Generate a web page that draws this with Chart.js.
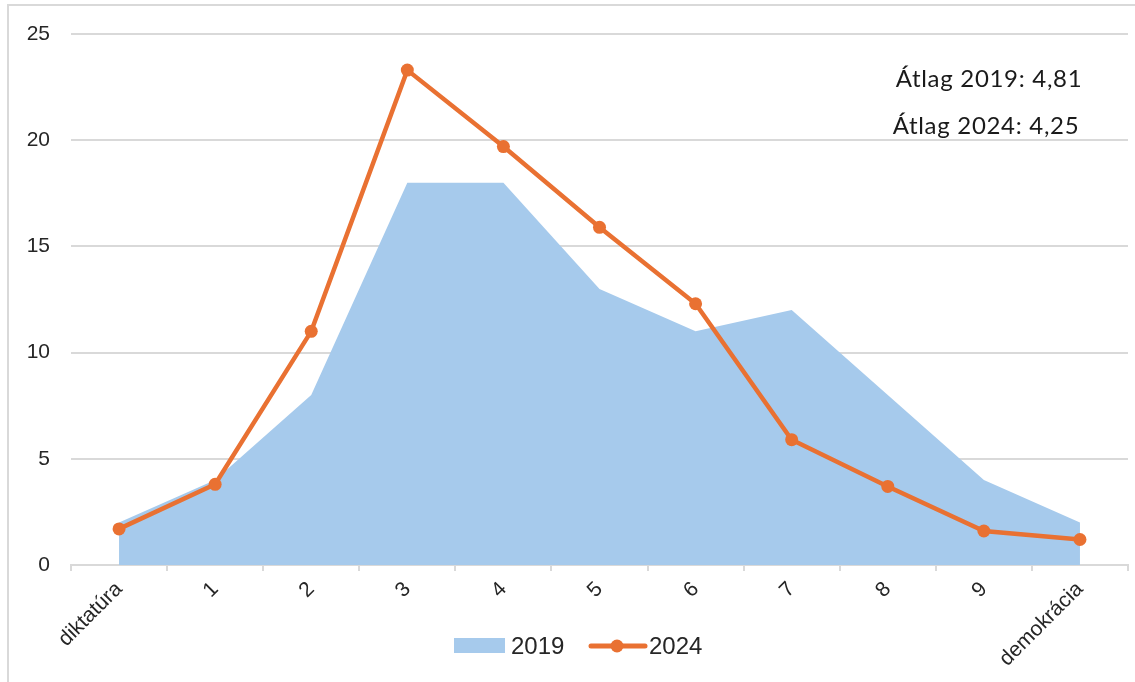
<!DOCTYPE html>
<html>
<head>
<meta charset="utf-8">
<script src="https://cdn.jsdelivr.net/npm/chart.js@4.4.1/dist/chart.umd.min.js"></script>
<style>
    body { margin: 0; background: #fff; }
    #wrap { position: relative; width: 1135px; height: 682px; }
</style>
</head>
<body>
<div id="wrap"><canvas id="chart"></canvas></div>
<script>
// Categories on the scale (diktatúra -> demokrácia)
const categories = ['diktatúra', '1', '2', '3', '4', '5', '6', '7', '8', '9', 'demokrácia'];
// Share per category
const values2019 = [2, 4, 8, 18, 18, 13, 11, 12, 8, 4, 2];
const values2024 = [1.7, 3.8, 11, 23.3, 19.7, 15.9, 12.3, 5.9, 3.7, 1.6, 1.2];
const seriesNames = ['2019', '2024'];
const yMax = 25;
const yStep = 5;
const averageNotes = ['Átlag 2019: 4,81', 'Átlag 2024: 4,25'];

const blue = '#A6CAEC';
const orange = '#E97132';
const textColor = '#262626';
const gridColor = '#D9D9D9';

// frame, average notes and legend
const extras = {
    id: 'extras',
    beforeDraw: function(chart) {
        const ctx = chart.ctx;
        ctx.save();
        ctx.fillStyle = '#fff';
        ctx.fillRect(0, 0, chart.width, chart.height);
        ctx.strokeStyle = gridColor;
        ctx.lineWidth = 2;
        ctx.strokeRect(8, 5, chart.width + 20, chart.height + 20);
        ctx.restore();
    },
    afterDraw: function(chart) {
        const ctx = chart.ctx;
        ctx.save();
        ctx.fillStyle = '#1a1a1a';
        ctx.font = '24px Lato';
        ctx.letterSpacing = '0.7px';
        ctx.textAlign = 'center';
        ctx.textBaseline = 'alphabetic';
        ctx.fillText(averageNotes[0], 989, 87);
        ctx.fillText(averageNotes[1], 986, 134);
        ctx.letterSpacing = '0px';

        // legend
        const ly = 646;
        ctx.fillStyle = blue;
        ctx.fillRect(454, ly - 8, 51, 15);
        ctx.strokeStyle = orange;
        ctx.lineWidth = 5;
        ctx.lineCap = 'round';
        ctx.beginPath();
        ctx.moveTo(591, ly);
        ctx.lineTo(645, ly);
        ctx.stroke();
        ctx.fillStyle = orange;
        ctx.beginPath();
        ctx.arc(617, ly, 6.5, 0, Math.PI * 2);
        ctx.fill();
        ctx.fillStyle = textColor;
        ctx.font = '24px "Liberation Sans"';
        ctx.textAlign = 'left';
        ctx.textBaseline = 'middle';
        ctx.fillText(seriesNames[0], 511, ly + 1);
        ctx.fillText(seriesNames[1], 649, ly + 1);
        ctx.restore();
    }
};

new Chart(document.getElementById('chart'), {
    type: 'line',
    data: {
        labels: categories,
        datasets: [
            {
                label: seriesNames[1],
                data: values2024,
                borderColor: orange,
                backgroundColor: orange,
                borderWidth: 4.5,
                pointRadius: 6.5,
                pointHoverRadius: 6.5,
                pointBackgroundColor: orange,
                pointBorderWidth: 0,
                tension: 0,
                fill: false,
                order: 0
            },
            {
                label: seriesNames[0],
                data: values2019,
                borderWidth: 0,
                borderColor: blue,
                backgroundColor: blue,
                pointRadius: 0,
                tension: 0,
                fill: 'origin',
                order: 1
            }
        ]
    },
    options: {
        responsive: true,
        maintainAspectRatio: false,
        animation: false,
        layout: { padding: { top: 34, right: 7, bottom: 5, left: 0 } },
        plugins: {
            legend: { display: false },
            tooltip: { enabled: false }
        },
        scales: {
            x: {
                offset: true,
                afterFit: function(scale) { scale.height = 112; },
                grid: {
                    offset: true,
                    drawOnChartArea: false,
                    drawTicks: true,
                    tickLength: 6,
                    color: gridColor,
                    lineWidth: 2
                },
                border: { color: gridColor, width: 2 },
                ticks: {
                    minRotation: 45,
                    maxRotation: 45,
                    autoSkip: false,
                    padding: 6,
                    color: textColor,
                    font: { family: 'Liberation Sans', size: 21 }
                }
            },
            y: {
                min: 0,
                max: yMax,
                afterFit: function(scale) { scale.width = 71; },
                grid: {
                    color: gridColor,
                    lineWidth: 2,
                    drawTicks: false
                },
                border: { display: false },
                ticks: {
                    stepSize: yStep,
                    padding: 21,
                    color: textColor,
                    font: { family: 'Liberation Sans', size: 21 }
                }
            }
        }
    },
    plugins: [extras]
});
</script>
</body>
</html>
